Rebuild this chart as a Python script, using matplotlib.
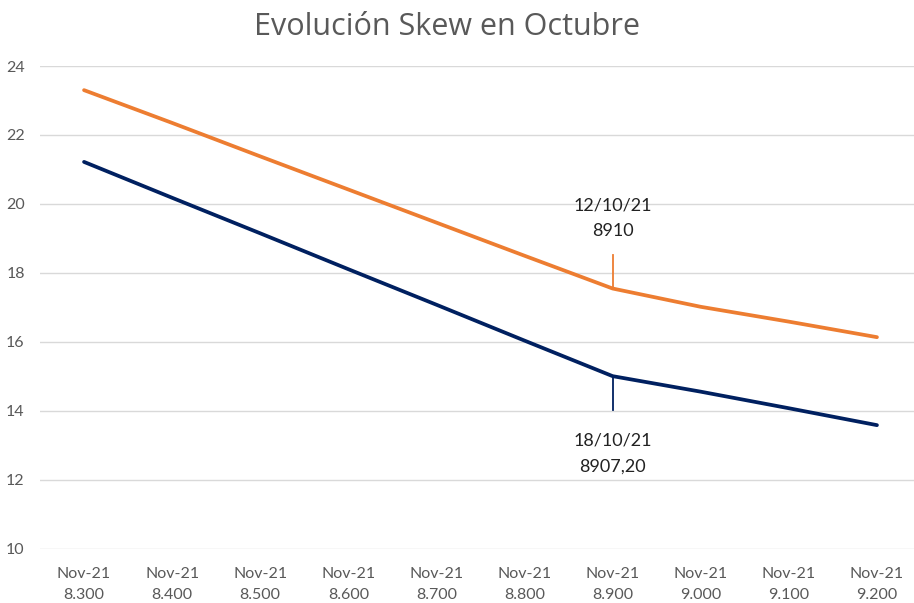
import matplotlib
matplotlib.use("Agg")
import matplotlib.pyplot as plt

# strikes on the x axis (Nov-21 expiry)
strikes = ["8.300", "8.400", "8.500", "8.600", "8.700", "8.800", "8.900", "9.000", "9.100", "9.200"]
expiry = "Nov-21"

# skew per strike, two dates
skew_12oct = [23.30, 22.35, 21.38, 20.42, 19.46, 18.50, 17.55, 17.02, 16.59, 16.14]
skew_18oct = [21.22, 20.18, 19.15, 18.11, 17.08, 16.04, 15.01, 14.56, 14.08, 13.59]

label_12oct = "12/10/21\n8910"
label_18oct = "18/10/21\n8907,20"
spot_idx = 6  # 8.900

orange = "#ED7D31"
navy = "#002060"
grey = "#595959"

plt.rcParams['font.family'] = ['Lato', 'DejaVu Sans']

fig = plt.figure(figsize=(9.14, 6.03), dpi=100)
ax = fig.add_axes([40 / 914, 1 - 549 / 603, 881 / 914, (549 - 66) / 603])

x = list(range(len(strikes)))
ax.plot(x, skew_12oct, color=orange, lw=2.7, solid_capstyle='round', zorder=3)
ax.plot(x, skew_18oct, color=navy, lw=2.7, solid_capstyle='round', zorder=3)

# callouts at the spot strike
ax.plot([spot_idx, spot_idx], [skew_12oct[spot_idx], 18.52], color=orange, lw=1.3)
ax.plot([spot_idx, spot_idx], [skew_18oct[spot_idx], 14.03], color=navy, lw=1.3)
ax.text(spot_idx, 19.58, label_12oct, ha='center', va='center', fontsize=13,
        color='#222222', linespacing=1.75)
ax.text(spot_idx, 12.77, label_18oct, ha='center', va='center', fontsize=13,
        color='#222222', linespacing=1.75)

ax.set_xlim(-0.5, len(strikes) - 0.5)
ax.set_ylim(10, 24)
ax.set_yticks(range(10, 25, 2))
ax.set_xticks(x)
ax.set_xticklabels([f"{expiry}\n{s}" for s in strikes])
ax.grid(axis='y', color='#D9D9D9', lw=1)
ax.set_axisbelow(True)
for sp in ax.spines.values():
    sp.set_visible(False)
ax.tick_params(length=0, colors=grey, labelsize=11.5)
ax.tick_params(axis='x', pad=13)
ax.tick_params(axis='y', pad=11)
for t in ax.get_xticklabels():
    t.set_linespacing(1.6)

fig.text(0.489, 1 - 27 / 603, "Evolución Skew en Octubre", ha='center', va='center',
         fontsize=22, color=grey, family=['Open Sans', 'DejaVu Sans'])

fig.savefig("out.png", dpi=100)
